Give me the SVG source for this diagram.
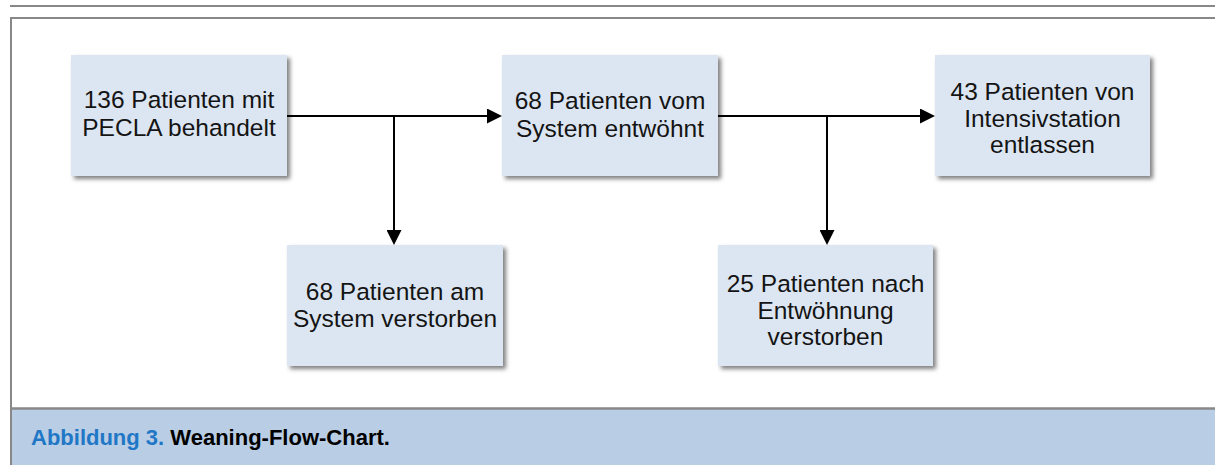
<svg xmlns="http://www.w3.org/2000/svg" width="1215" height="465" viewBox="0 0 1215 465">
<defs>
<filter id="sh" x="-10%" y="-10%" width="125%" height="130%">
<feDropShadow dx="3" dy="3" stdDeviation="2" flood-color="#000" flood-opacity="0.5"/>
</filter>
<marker id="arr" markerUnits="userSpaceOnUse" markerWidth="15" markerHeight="15" refX="0" refY="7.5" orient="auto">
<path d="M0,0 L15,7.5 L0,15 z" fill="#000"/>
</marker>
</defs>
<style>
.box{fill:#dce6f2;filter:url(#sh);}
.t{font-family:"Liberation Sans",Arial,sans-serif;font-size:24.5px;fill:#141414;text-anchor:middle;}
.c{stroke:#000;stroke-width:2;fill:none;marker-end:url(#arr);}
.frame{stroke:#888;fill:none;}
.cap{font-family:"Liberation Sans",Arial,sans-serif;font-size:22px;font-weight:bold;}
</style>
<rect width="1215" height="465" fill="#fff"/>
<line class="frame" x1="10" y1="6" x2="1215" y2="6" stroke-width="2.2"/>
<rect x="11" y="409" width="1215" height="60" fill="#b9cde5"/>
<path class="frame" d="M1230,18 H11 V470" stroke-width="2"/>
<line class="frame" x1="11" y1="408.5" x2="1215" y2="408.5" stroke-width="2.5"/>
<text class="cap" x="31" y="445"><tspan fill="#1f77c6">Abbildung 3.</tspan><tspan fill="#000"> Weaning-Flow-Chart.</tspan></text>
<g id="connectors">
<path class="c" d="M287,116 H487"/>
<path class="c" d="M394,116 V230"/>
<path class="c" d="M718,116 H920"/>
<path class="c" d="M827,116 V230"/>
</g>
<g id="n1">
<rect class="box" x="71" y="55" width="216" height="121"/>
<text class="t" x="179" y="108">136 Patienten mit</text>
<text class="t" x="179" y="136">PECLA behandelt</text>
</g>
<g id="n2">
<rect class="box" x="502" y="55" width="216" height="121"/>
<text class="t" x="610" y="109">68 Patienten vom</text>
<text class="t" x="610" y="137">System entwöhnt</text>
</g>
<g id="n3">
<rect class="box" x="935" y="55" width="215" height="121"/>
<text class="t" x="1042.5" y="99.5">43 Patienten von</text>
<text class="t" x="1042.5" y="126.5">Intensivstation</text>
<text class="t" x="1042.5" y="153">entlassen</text>
</g>
<g id="n4">
<rect class="box" x="287" y="245" width="216" height="121"/>
<text class="t" x="395" y="300">68 Patienten am</text>
<text class="t" x="395" y="327">System verstorben</text>
</g>
<g id="n5">
<rect class="box" x="718" y="245" width="215" height="121"/>
<text class="t" x="825.5" y="292">25 Patienten nach</text>
<text class="t" x="825.5" y="318.5">Entwöhnung</text>
<text class="t" x="825.5" y="345">verstorben</text>
</g>
</svg>
